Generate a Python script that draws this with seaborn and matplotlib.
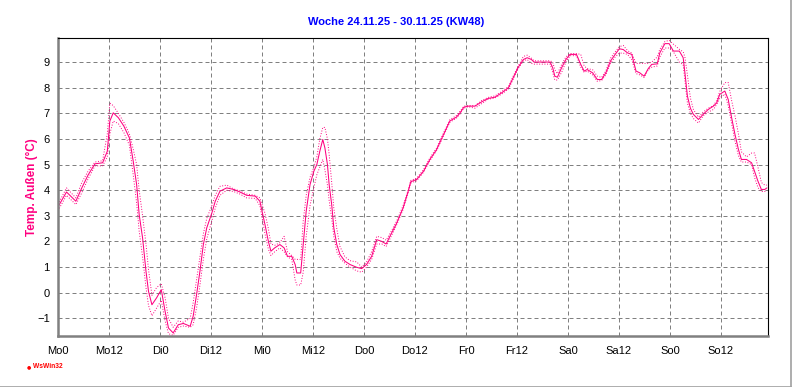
import matplotlib
matplotlib.use("Agg")
import matplotlib.pyplot as plt
from matplotlib.lines import Line2D
from matplotlib.ticker import MultipleLocator, FixedLocator
import seaborn as sns
import pandas as pd

# Stunden seit Montag 0 Uhr
stunden = [0.0, 2.0, 4.2, 5.6, 7.1, 8.7, 10.5, 11.6, 12.2, 13.0, 14.2, 15.5, 16.8, 17.7,
           18.5, 19.1, 19.9, 20.7, 21.3, 22.1, 23.2, 24.3, 25.2, 26.0, 27.1, 28.3, 29.5,
           31.1, 31.8, 32.6, 33.4, 34.2, 35.0, 36.2, 37.0, 38.1, 39.7, 41.3, 42.8, 44.4,
           46.4, 47.5, 48.7, 49.5, 50.1, 51.0, 52.2, 53.2, 54.0, 55.0, 55.8, 56.2, 57.1,
           57.7, 58.4, 59.3, 60.2, 60.9, 61.6, 62.3, 62.8, 63.4, 63.8, 64.4, 64.9, 65.6,
           66.35, 67.5, 68.7, 70.3, 71.45, 72.6, 73.8, 75.0, 76.2, 77.2, 78.1, 79.7, 81.2,
           82.4, 83.0, 84.4, 86.0, 87.5, 89.1, 90.7, 92.2, 93.8, 94.6, 95.5, 96.5, 98.1,
           99.7, 101.2, 102.8, 104.4, 106.0, 107.1, 108.3, 109.5, 110.4, 111.4, 112.0,
           115.8, 116.4, 116.9, 117.5, 118.5, 119.5, 120.5, 122.0, 123.0, 123.8, 124.5,
           125.8, 126.9, 127.9, 128.9, 130.0, 131.1, 132.07, 133.0, 134.0, 135.0, 136.0,
           136.9, 137.9, 138.9, 139.7, 141.0, 141.6, 142.8, 143.8, 144.8, 146.2, 147.1,
           147.5, 148.1, 148.8, 149.5, 150.7, 151.8, 153.0, 154.2, 155.0, 155.7, 156.9,
           157.7, 158.5, 159.3, 160.1, 160.8, 162.0, 163.2, 163.9, 164.7, 165.5, 166.3, 166.8]

temp_mittel = [3.35, 3.93, 3.57, 4.09, 4.6, 5.03, 5.07, 5.52, 6.7, 7.02, 6.83, 6.5, 6.04, 5.13,
               4.22, 3.05, 2.14, 0.84, 0.05, -0.47, -0.2, 0.12, -0.73, -1.38, -1.57, -1.25, -1.2,
               -1.31, -0.92, -0.08, 0.84, 1.88, 2.53, 3.11, 3.57, 3.96, 4.09, 4.03, 3.93, 3.8,
               3.77, 3.57, 2.66, 2.0, 1.62, 1.75, 1.88, 1.75, 1.42, 1.42, 1.1, 0.77, 0.77,
               1.88, 3.18, 4.22, 4.74, 5.0, 5.52, 5.98, 5.65, 5.0, 4.22, 3.44, 2.53, 1.88,
               1.49, 1.23, 1.1, 0.99, 0.94, 1.1, 1.42, 2.07, 2.0, 1.9, 2.2, 2.72, 3.31,
               3.96, 4.33, 4.42, 4.74, 5.2, 5.59, 6.17, 6.7, 6.86, 7.02, 7.24, 7.28, 7.28,
               7.45, 7.58, 7.63, 7.8, 8.0, 8.39, 8.8, 9.1, 9.17, 9.1, 9.0,
               9.0, 8.78, 8.45, 8.41, 8.78, 9.1, 9.3, 9.3, 8.91, 8.65, 8.71,
               8.58, 8.32, 8.32, 8.58, 9.04, 9.3, 9.52, 9.49, 9.36, 9.3, 8.65,
               8.58, 8.45, 8.75, 8.91, 8.93, 9.36, 9.72, 9.72, 9.43, 9.43, 9.17,
               8.6, 7.67, 7.2, 6.96, 6.76, 6.96, 7.15, 7.28, 7.41, 7.74, 7.87,
               7.54, 6.83, 6.17, 5.59, 5.2, 5.2, 5.07, 4.74, 4.35, 4.03, 4.03, 4.09]

temp_max = [3.45, 4.09, 3.7, 4.3, 4.75, 5.1, 5.15, 6.2, 7.4, 7.3, 7.0, 6.65, 6.2, 5.6,
            5.0, 4.0, 3.0, 1.9, 0.9, -0.1, 0.2, 0.35, -0.2, -1.0, -1.35, -1.1, -1.15,
            -1.0, -0.4, 0.5, 1.4, 2.3, 2.9, 3.4, 3.8, 4.15, 4.2, 4.05, 3.97, 3.85,
            3.8, 3.7, 3.1, 2.5, 1.9, 1.85, 1.95, 2.2, 1.6, 1.45, 1.3, 1.3, 1.3,
            2.8, 3.8, 4.5, 4.9, 5.3, 6.0, 6.45, 6.45, 6.0, 5.4, 4.3, 3.3, 2.5,
            1.8, 1.4, 1.25, 1.2, 1.0, 1.2, 1.6, 2.2, 2.15, 2.05, 2.3, 2.8, 3.4,
            4.0, 4.38, 4.47, 4.8, 5.26, 5.65, 6.23, 6.75, 6.92, 7.08, 7.28, 7.3, 7.3,
            7.5, 7.62, 7.68, 7.85, 8.05, 8.45, 8.85, 9.22, 9.27, 9.15, 9.05,
            9.05, 9.0, 8.7, 8.55, 8.9, 9.2, 9.33, 9.33, 9.3, 8.85, 8.75,
            8.7, 8.45, 8.4, 8.65, 9.15, 9.4, 9.6, 9.65, 9.45, 9.35, 8.95,
            8.95, 8.95, 8.95, 9.0, 9.2, 9.5, 9.8, 9.85, 9.7, 9.5, 9.4,
            9.2, 8.5, 7.6, 7.15, 6.85, 7.05, 7.2, 7.3, 7.5, 7.85, 8.2,
            8.2, 7.5, 6.9, 6.2, 5.5, 5.3, 5.45, 5.45, 4.9, 4.3, 4.2, 4.2]

temp_min = [3.2, 3.8, 3.44, 3.9, 4.45, 4.95, 4.95, 5.3, 6.2, 6.7, 6.6, 6.25, 5.75, 4.6,
            3.5, 2.4, 1.4, 0.2, -0.5, -0.9, -0.6, -0.3, -1.1, -1.6, -1.66, -1.35, -1.3,
            -1.35, -1.25, -0.6, 0.3, 1.3, 2.1, 2.8, 3.3, 3.8, 4.0, 3.95, 3.85, 3.7,
            3.68, 3.4, 2.3, 1.7, 1.45, 1.6, 1.75, 1.6, 1.4, 1.3, 0.5, 0.3, 0.3,
            0.8, 2.2, 3.4, 4.1, 4.6, 4.9, 5.2, 4.8, 4.2, 3.6, 2.9, 2.2, 1.6,
            1.35, 1.15, 1.0, 0.85, 0.8, 1.0, 1.3, 1.9, 1.9, 1.8, 2.1, 2.65, 3.25,
            3.9, 4.28, 4.37, 4.7, 5.15, 5.55, 6.12, 6.65, 6.82, 6.98, 7.2, 7.26, 7.2,
            7.38, 7.55, 7.6, 7.75, 7.95, 8.33, 8.75, 9.05, 9.1, 8.95, 8.92,
            8.92, 8.6, 8.3, 8.3, 8.6, 9.0, 9.25, 9.25, 8.8, 8.6, 8.65,
            8.5, 8.25, 8.28, 8.5, 8.95, 9.2, 9.35, 9.35, 9.3, 9.1, 8.55,
            8.5, 8.4, 8.7, 8.8, 8.85, 9.2, 9.55, 9.55, 9.4, 9.0, 8.9,
            8.3, 7.4, 7.0, 6.8, 6.62, 6.9, 7.05, 7.15, 7.35, 7.6, 7.75,
            7.3, 6.6, 5.9, 5.35, 5.1, 5.1, 5.0, 4.5, 4.1, 3.95, 3.95, 4.0]

tage = ["Mo0", "Mo12", "Di0", "Di12", "Mi0", "Mi12", "Do0", "Do12",
        "Fr0", "Fr12", "Sa0", "Sa12", "So0", "So12"]

df = pd.DataFrame({"h": stunden, "mittel": temp_mittel, "max": temp_max, "min": temp_min})

sns.set_style("white")
plt.rcParams["font.family"] = ["Liberation Sans", "DejaVu Sans"]

pink = "#ff0080"
grau = "#808080"

fig = plt.figure(figsize=(7.92, 3.87), dpi=100)
ax = fig.add_axes([58 / 792, 51 / 387, 710 / 792, 298 / 387])

# Max / Min gepunktet, Mittel durchgezogen
sns.lineplot(data=df, x="h", y="max", ax=ax, color=pink, lw=0.7, ls=(0, (1, 1.7)), estimator=None)
sns.lineplot(data=df, x="h", y="min", ax=ax, color=pink, lw=0.7, ls=(0, (1, 1.7)), estimator=None)
sns.lineplot(data=df, x="h", y="mittel", ax=ax, color=pink, lw=0.75, estimator=None)

ax.set_xlim(0, 167.06)
ax.set_ylim(-1.69, 9.94)

ax.xaxis.set_major_locator(FixedLocator([12 * i for i in range(len(tage))]))
ax.set_xticklabels(tage)
ax.xaxis.set_minor_locator(MultipleLocator(3))
ax.yaxis.set_major_locator(FixedLocator(list(range(-1, 10))))
ax.yaxis.set_minor_locator(MultipleLocator(1 / 3))

ax.tick_params(which="major", direction="out", length=3, width=0.8, color=grau,
               labelsize=8, labelcolor="black", pad=3)
ax.tick_params(which="minor", direction="in", length=2.2, width=0.8, color=grau)
ax.tick_params(axis="x", which="major", pad=4)

ax.grid(True, which="major", color=grau, lw=0.72, ls=(0, (4, 3)))
ax.set_axisbelow(True)

for s in ["left", "bottom"]:
    ax.spines[s].set_color(grau)
    ax.spines[s].set_linewidth(1.8)
for s in ["top", "right"]:
    ax.spines[s].set_color("black")
    ax.spines[s].set_linewidth(0.8)

ax.set_xlabel("")
ax.set_ylabel("Temp. Außen (°C)", color=pink, fontsize=8.5, fontweight="bold")
ax.yaxis.set_label_coords(-0.028, 0.5)

fig.text(0.5, 1 - 22 / 387, "Woche 24.11.25 - 30.11.25 (KW48)", ha="center", va="center",
         fontsize=8, fontweight="bold", color="#0000ff")

# kleines Logo unten links
fig.text(29 / 792, 1 - 367 / 387, "\u25cf", ha="center", va="center", fontsize=3.5,
         color="#ff0000", family="DejaVu Sans")
fig.text(33 / 792, 1 - 367 / 387, "WsWin32", ha="left", va="center", fontsize=4.8,
         fontweight="bold", color="#ff0000")

# Fensterrahmen rechts und unten
fig.add_artist(Line2D([790.5 / 792, 790.5 / 792], [0, 1], transform=fig.transFigure,
                      color="#a0a0a0", lw=1.2))
fig.add_artist(Line2D([0, 790.5 / 792], [0.5 / 387, 0.5 / 387], transform=fig.transFigure,
                      color="#a0a0a0", lw=1.2))

fig.savefig("out.png", dpi=100)
